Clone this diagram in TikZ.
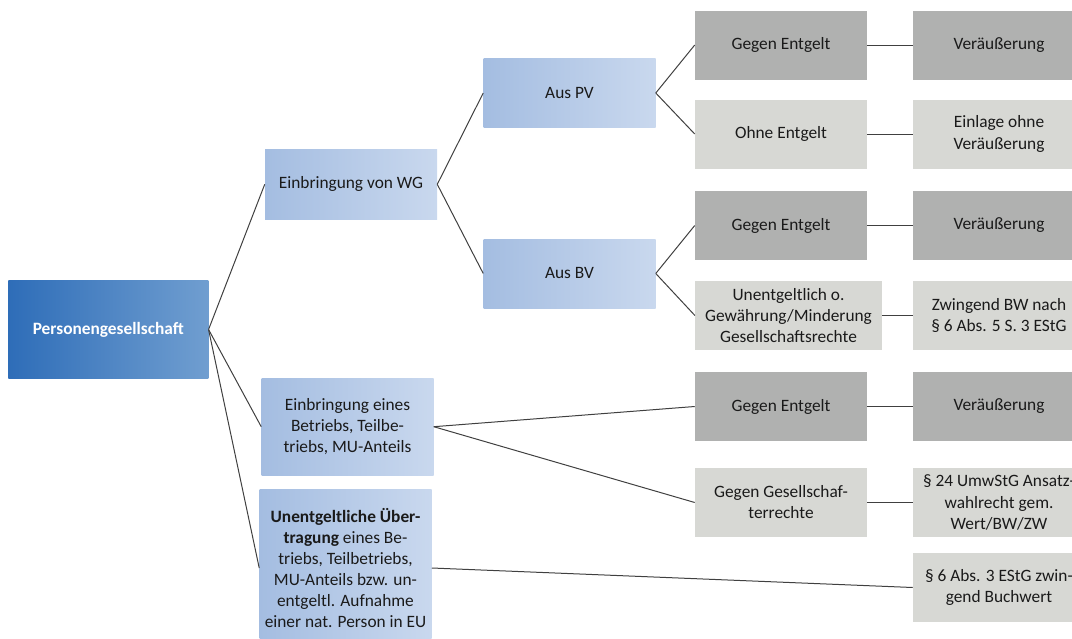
\documentclass[tikz,border=0pt]{standalone}
\usepackage{fontspec}
\setmainfont{Carlito}
\usepackage{tikz}
\usetikzlibrary{positioning}
\usepackage{xcolor}
\definecolor{pgdark}{RGB}{46,109,184}
\definecolor{pglight}{RGB}{112,158,208}
\definecolor{bluel}{RGB}{164,189,225}
\definecolor{bluer}{RGB}{201,216,238}
\definecolor{boxdark}{RGB}{176,177,176}
\definecolor{boxlight}{RGB}{215,216,212}
\definecolor{linegray}{RGB}{64,64,64}
\definecolor{txtblack}{RGB}{26,26,26}
\tikzstyle{box} = [rectangle, minimum width=129pt, minimum height=51.75pt, align=center, inner sep=2pt, text=txtblack, font=\fontsize{13}{15.8}\selectfont]
\tikzstyle{rootbox} = [box, minimum width=150pt, minimum height=73pt, left color=pgdark, right color=pglight, text=white, font=\bfseries\fontsize{13}{15.8}\selectfont]
\tikzstyle{bluebox} = [box, left color=bluel, right color=bluer]
\tikzstyle{darkbox} = [box, fill=boxdark]
\tikzstyle{lightbox} = [box, fill=boxlight]
\tikzstyle{link} = [line width=0.75pt, color=linegray]

\begin{document}
\begin{tikzpicture}[x=0.75pt, y=-0.75pt]
    \useasboundingbox (0,0) rectangle (1072,639);
    \clip (0,0) rectangle (1072,639);

    % Root
    \node[rootbox] (pg) at (108.3, 329.5) {Personengesellschaft};

    % Second level
    \node[bluebox, minimum height=52.5pt] (wg) at (351, 184.3) {Einbringung von WG};
    \node[bluebox, minimum height=72.75pt] (betr) at (347.5, 426.7) {Einbringung eines\\Betriebs, Teilbe-\\triebs, MU-Anteils};
    \node[bluebox, minimum height=118.5pt] (unent) at (345.5, 568) {\textbf{Unentgeltliche Über-}\\\textbf{tragung} eines Be-\\triebs, Teilbetriebs,\\MU-Anteils bzw. un-\\entgeltl. Aufnahme\\einer nat. Person in EU};

    % Third level
    \node[bluebox] (pv) at (569.5, 93) {Aus PV};
    \node[bluebox] (bv) at (569.5, 273.5) {Aus BV};

    % Kind of transfer
    \node[darkbox] (pvge) at (781, 45) {Gegen Entgelt};
    \node[lightbox] (pvoe) at (781, 134) {Ohne Entgelt};
    \node[darkbox] (bvge) at (781, 225.5) {Gegen Entgelt};
    \node[lightbox, minimum width=140pt] (bvue) at (788.5, 315.5) {Unentgeltlich o.\\Gewährung/Minderung\\Gesellschaftsrechte};
    \node[darkbox] (betrge) at (781, 406.5) {Gegen Entgelt};
    \node[lightbox] (betrgr) at (781, 502.5) {Gegen Gesellschaf-\\terrechte};

    % Consequences
    \node[darkbox] (pvgefolge) at (999, 45) {Veräußerung};
    \node[lightbox] (pvoefolge) at (999, 134) {Einlage ohne\\Veräußerung};
    \node[darkbox] (bvgefolge) at (999, 225.5) {Veräußerung};
    \node[lightbox] (bvuefolge) at (999, 315.5) {Zwingend BW nach\\§ 6 Abs. 5 S. 3 EStG};
    \node[darkbox] (betrgefolge) at (999, 406.5) {Veräußerung};
    \node[lightbox] (betrgrfolge) at (999, 502.5) {§ 24 UmwStG Ansatz-\\wahlrecht gem.\\Wert/BW/ZW};
    \node[lightbox] (unentfolge) at (999, 587.5) {§ 6 Abs. 3 EStG zwin-\\gend Buchwert};

    % Connections
    \draw[link] (pg.east) -- (wg.west);
    \draw[link] (pg.east) -- (betr.west);
    \draw[link] (pg.east) -- (unent.west);
    \draw[link] (wg.east) -- (pv.west);
    \draw[link] (wg.east) -- (bv.west);
    \draw[link] (pv.east) -- (pvge.west);
    \draw[link] (pv.east) -- (pvoe.west);
    \draw[link] (bv.east) -- (bvge.west);
    \draw[link] (bv.east) -- (bvue.west);
    \draw[link] (betr.east) -- (betrge.west);
    \draw[link] (betr.east) -- (betrgr.west);
    \draw[link] (unent.east) -- (unentfolge.west);

    \draw[link] (pvge) -- (pvgefolge);
    \draw[link] (pvoe) -- (pvoefolge);
    \draw[link] (bvge) -- (bvgefolge);
    \draw[link] (bvue) -- (bvuefolge);
    \draw[link] (betrge) -- (betrgefolge);
    \draw[link] (betrgr) -- (betrgrfolge);
\end{tikzpicture}
\end{document}
